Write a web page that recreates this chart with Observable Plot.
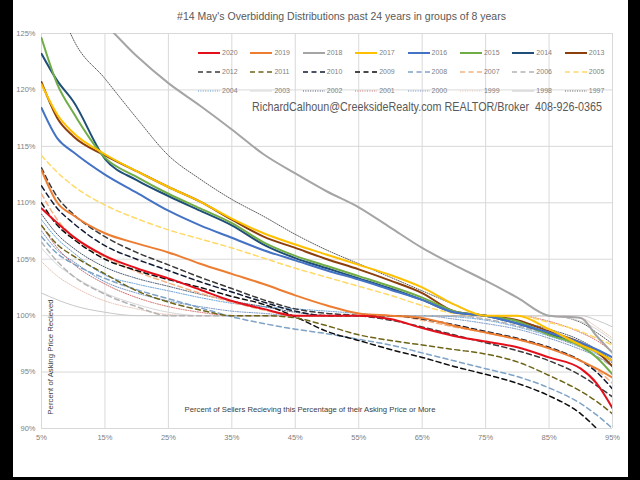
<!DOCTYPE html>
<html><head><meta charset="utf-8">
<script src="https://cdn.jsdelivr.net/npm/d3@7"></script>
<script src="https://cdn.jsdelivr.net/npm/@observablehq/plot@0.6"></script>
<style>
html,body{margin:0;padding:0;background:#000;width:640px;height:480px;overflow:hidden}
#card{position:absolute;left:13px;top:0;width:615px;height:477px;background:#fff;font-family:"Liberation Sans",Arial,sans-serif;overflow:hidden}
#title{position:absolute;left:21px;top:10px;width:100%;text-align:center;font-size:10.5px;color:#595959;white-space:nowrap}
#chart{position:absolute;left:0;top:26px}
#legend{position:absolute;left:185px;top:43px;display:grid;grid-template-columns:repeat(8,52.4px);grid-auto-rows:19px}
.item{display:flex;align-items:center;font-size:7px;color:#7f7f7f}
.item svg{margin-right:2px}
#mark{position:absolute;left:239px;top:99px;font-size:13.5px;color:#595959;white-space:nowrap;transform-origin:0 50%}
#ytitle{position:absolute;left:37px;top:357px;transform:translate(-50%,-50%) rotate(-90deg);font-size:7.8px;color:#404040;white-space:nowrap}
#xtitle{position:absolute;left:297px;top:409px;transform:translate(-50%,-50%);font-size:7.7px;color:#404040;white-space:nowrap}
</style></head>
<body>
<div id="card">
  <div id="title"></div>
  <div id="chart"></div>
  <div id="legend"></div>
  <div id="mark"></div>
  <div id="ytitle"></div>
  <div id="xtitle"></div>
</div>
<script>
// ---- data ----
const titleText = "#14 May's Overbidding Distributions past 24 years in groups of 8 years";
const watermark = "RichardCalhoun@CreeksideRealty.com REALTOR/Broker\u00a0\u00a0408-926-0365";
const yTitle = "Percent of Asking Price Recieved";
const xTitle = "Percent of Sellers Recieving this Percentage of their Asking Price or More";
const xTicks = [5,15,25,35,45,55,65,75,85,95];
const yTicks = [90,95,100,105,110,115,120,125];
const pct = [5,7.5,10,15,20,25,30,35,40,45,50,55,60,65,70,75,80,85,90,92.5,95];

const v2020 = [109.5,108.2,107.0,105.3,104.2,103.3,102.3,101.3,100.6,100,100,100,99.7,98.9,98.2,97.7,97.2,96.3,95.3,94.0,91.8];
const v2019 = [112.9,110.0,108.9,107.3,106.4,105.6,104.6,103.7,102.8,101.8,100.9,100.2,100,99.8,99.1,98.5,97.9,97.1,96.0,95.3,94.5];
const v2018 = [131,129.5,128,125.8,123,120.6,118.6,116.5,114.3,112.6,111.0,109.6,107.8,106.0,104.5,103.1,101.6,100,99.8,98.2,96.7];
const v2017 = [120.5,117.8,116.2,114.3,112.8,111.4,110.1,108.6,107.3,106.3,105.4,104.5,103.6,102.5,101.0,100,100,98.8,97.4,96.8,96.0];
const v2016 = [118.4,115.7,114.5,112.5,110.9,109.3,108.0,106.9,105.8,104.9,104.0,103.2,102.3,101.4,100.3,100,99.3,98.5,97.6,97.0,96.3];
const v2015 = [124.6,120.5,118.0,114.0,112.3,110.8,109.5,108.2,106.5,105.3,104.4,103.5,102.6,101.6,100.4,100,99.5,98.3,97.3,96.3,94.8];
const v2014 = [123.2,120.8,119.0,113.9,112.0,110.6,109.3,108.0,106.3,105.1,104.2,103.3,102.4,101.4,100.3,100,99.3,98.4,97.4,96.8,96.0];
const v2013 = [120.7,117.5,115.9,114.2,112.8,111.4,110.1,108.5,107.0,106.0,105.0,104.1,103.1,102.0,100.4,100,99.6,98.6,97.6,96.8,95.5];
const v2012 = [113.1,110.5,109.0,107.0,105.6,104.5,103.4,102.4,101.4,100.6,100.2,100,99.6,99.0,98.3,97.6,96.9,96.0,94.7,93.8,92.8];
const v2011 = [108.0,106.3,105.3,103.7,102.2,101.2,100.5,100,100,99.8,99.1,98.3,97.8,97.4,97.0,96.6,95.9,94.7,93.3,92.4,91.3];
const v2010 = [111.5,109.5,108.2,106.2,105.0,104.0,103.0,102.1,101.2,100.4,100,100,100,99.7,99.2,98.6,98.0,97.2,96.0,95.0,93.5];
const v2009 = [110.0,108.0,106.8,105.0,104.0,103.2,102.5,101.7,101.0,99.9,98.6,97.8,97.0,96.3,95.5,94.8,94.0,92.9,91.3,90.0,88.5];
const v2008 = [107.0,105.5,104.6,103.3,102.3,101.5,100.7,99.9,99.3,98.8,98.4,97.9,97.4,96.7,96.0,95.3,94.6,93.6,92.2,91.2,90.0];
const v2007 = [110.8,108.5,107.0,105.2,103.9,102.9,102.0,101.2,100.5,100,100,100,100,99.6,99.0,98.5,97.9,97.1,96.0,95.2,94.0];
const v2006 = [106.5,104.8,103.5,101.9,100.8,100,100,100,100,100,100,100,100,100,100,99.7,99.1,98.3,97.2,96.4,95.5];
const v2005 = [114.2,112.7,111.5,109.8,108.6,107.6,106.8,106.0,105.1,104.2,103.4,102.6,101.8,100.9,100.2,100,100,99.4,98.6,98.0,97.4];
const v2004 = [108.5,106.8,105.6,103.6,102.8,102.2,101.6,101.1,100.8,100.6,100.4,100.2,100,100,99.9,99.6,99.0,98.2,97.2,96.6,95.8];
const v2003 = [106.0,104.5,103.5,102.0,101.0,100.3,100,100,100,100,100,100,100,100,100,100,100,100,99.5,98.8,97.8];
const v2002 = [109.0,107.2,106.0,104.3,103.3,102.6,101.9,101.3,100.8,100.3,100,100,100,100,100,100,99.5,98.8,97.8,97.0,96.0];
const v2001 = [108.0,106.0,104.6,102.8,101.6,100.8,100.3,100,100,100,100,100,100,100,100,100,100,99.5,98.5,97.8,96.8];
const v2000 = [107.5,105.8,104.8,103.0,102.0,101.3,100.8,100.4,100.2,100,100,100,100,100,99.7,99.3,98.8,98.0,97.0,96.4,95.6];
const v1999 = [104.8,103.5,102.6,101.3,100.6,100.1,100,100,100,100,100,100,100,100,100,100,100,100,99.8,99.0,98.0];
const v1998 = [102.0,101.4,100.9,100.3,100,100,100,100,100,100,100,100,100,100,100,100,100,100,100,99.6,99.0];
const v1997 = [134,128,124.5,121.0,117.5,114.2,112.1,110.3,108.8,107.2,105.8,104.6,103.4,102.2,101.0,100,100,100,99.4,98.5,97.5];

const years = [2020,2019,2018,2017,2016,2015,2014,2013,2012,2011,2010,2009,2008,2007,2006,2005,2004,2003,2002,2001,2000,1999,1998,1997];
const values = [v2020,v2019,v2018,v2017,v2016,v2015,v2014,v2013,v2012,v2011,v2010,v2009,v2008,v2007,v2006,v2005,v2004,v2003,v2002,v2001,v2000,v1999,v1998,v1997];

// ---- styles ----
const colors = {2020:"#e3101c",2019:"#ed7d31",2018:"#a5a5a5",2017:"#ffc000",2016:"#4472c4",2015:"#70ad47",2014:"#1f4e79",2013:"#8c3f0c",
  2012:"#3a3a3a",2011:"#6e6418",2010:"#111a33",2009:"#0d0d0d",2008:"#7fa3c6",2007:"#f4b183",2006:"#b4b4b4",2005:"#ffd966",
  2004:"#5b9bd5",2003:"#d6d6d6",2002:"#44546a",2001:"#d06a6a",2000:"#6f8fc0",1999:"#e6c2b2",1998:"#c8c8c8",1997:"#595959"};
const styleOf = y => {
  if (y >= 2013) return {strokeWidth: 2};
  if (y >= 2005) return {strokeWidth: 1.5, strokeDasharray: "5,3.5"};
  if (y === 2003 || y === 1998) return {strokeWidth: 1};
  return {strokeWidth: 1, strokeDasharray: "1,1.4"};
};

document.getElementById("title").textContent = titleText;
const markEl = document.getElementById("mark");
markEl.textContent = watermark;
const mw = markEl.getBoundingClientRect().width;
markEl.style.transform = `scaleX(${350 / mw})`;
document.getElementById("ytitle").textContent = yTitle;
document.getElementById("xtitle").textContent = xTitle;

const rows = years.map((yr, i) => pct.map((p, j) => ({year: yr, p, v: values[i][j]})));

const lineMarks = years.slice().reverse().map(yr => {
  const i = years.indexOf(yr);
  return Plot.line(rows[i], {x: "p", y: "v", stroke: colors[yr], ...styleOf(yr), curve: "monotone-x", clip: true});
});

const chart = Plot.plot({
  width: 615, height: 434,
  marginLeft: 28, marginRight: 16, marginTop: 7, marginBottom: 32,
  style: {fontFamily: "Liberation Sans, Arial, sans-serif", fontSize: "7.5px", color: "#7f7f7f", background: "transparent"},
  x: {domain: [5, 95]},
  y: {domain: [90, 125]},
  marks: [
    Plot.gridX(xTicks, {stroke: "#d9d9d9", strokeOpacity: 1}),
    Plot.gridY(yTicks, {stroke: "#d9d9d9", strokeOpacity: 1}),
    Plot.axisX({ticks: xTicks, tickFormat: d => d + "%", tickSize: 0, tickPadding: 6, label: null}),
    Plot.axisY({ticks: yTicks, tickFormat: d => d + "%", tickSize: 0, tickPadding: 6, label: null}),
    ...lineMarks
  ]
});
document.getElementById("chart").appendChild(chart);

// legend
const leg = document.getElementById("legend");
years.forEach(yr => {
  const s = styleOf(yr);
  const item = document.createElement("div");
  item.className = "item";
  item.innerHTML = `<svg width="22" height="6"><line x1="0" y1="3" x2="22" y2="3" stroke="${colors[yr]}" stroke-width="${s.strokeWidth}" ${s.strokeDasharray ? `stroke-dasharray="${s.strokeDasharray}"` : ""}/></svg><span>${yr}</span>`;
  leg.appendChild(item);
});
</script>
</body></html>
